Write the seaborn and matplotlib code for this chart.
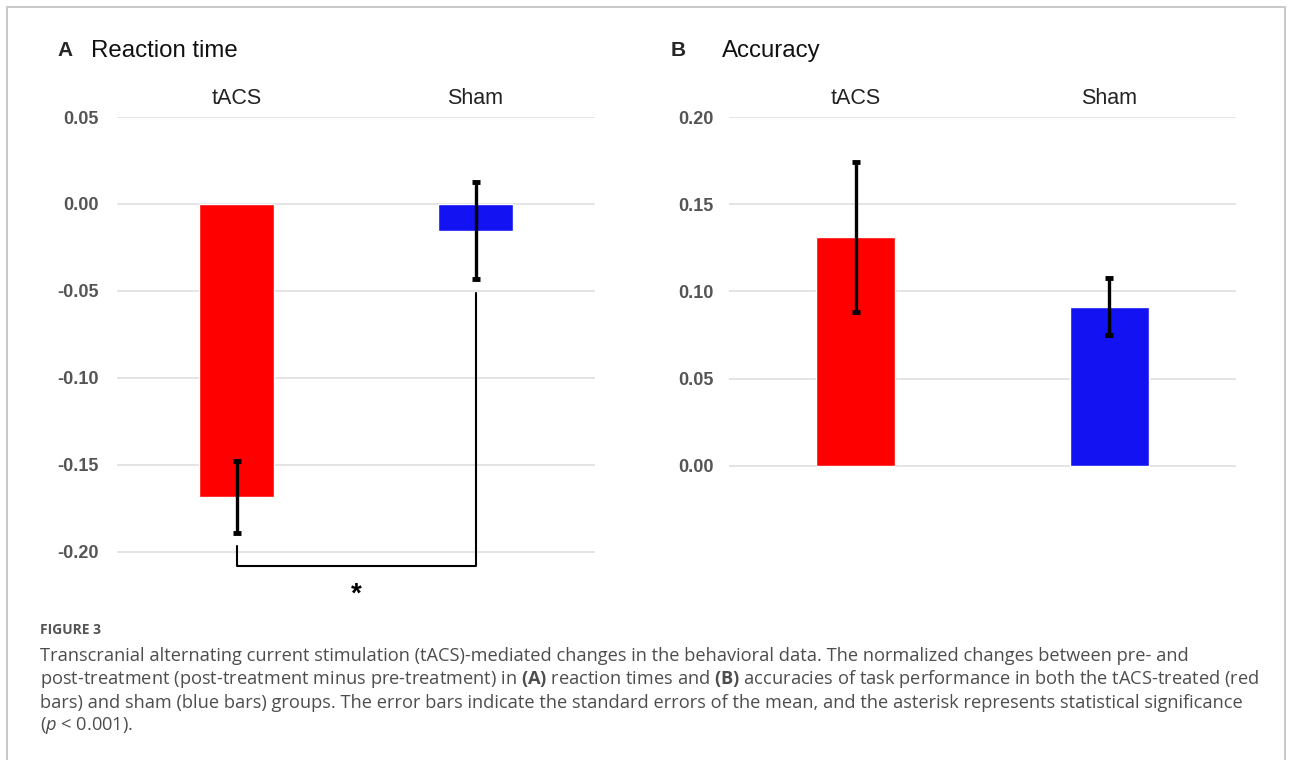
import matplotlib
matplotlib.use("Agg")
import matplotlib.pyplot as plt
import seaborn as sns
import pandas as pd
from matplotlib.patches import Rectangle

# ---------------- data ----------------
groups = ["tACS", "Sham"]
rt_mean = [-0.1685, -0.0153]
rt_sem = [0.0208, 0.0277]
acc_mean = [0.1313, 0.0912]
acc_sem = [0.0431, 0.0163]
bar_colors = ["#FF0000", "#1212F2"]

rt_ticks = [0.05, 0.00, -0.05, -0.10, -0.15, -0.20]
acc_ticks = [0.20, 0.15, 0.10, 0.05, 0.00]

# significance bracket (data units, panel A)
bracket_y = -0.2078
bracket_left_top = -0.1966
bracket_right_top = -0.0512
star_y = -0.2245

caption_lines = [
    "Transcranial alternating current stimulation (tACS)-mediated changes in the behavioral data. The normalized changes between pre- and",
    r"post-treatment (post-treatment minus pre-treatment) in $\mathbf{(A)}$ reaction times and $\mathbf{(B)}$ accuracies of task performance in both the tACS-treated (red",
    "bars) and sham (blue bars) groups. The error bars indicate the standard errors of the mean, and the asterisk represents statistical significance",
    r"($\mathit{p}$ < 0.001).",
]

# ---------------- style ----------------
sns.set_theme(style="white")
plt.rcParams["font.family"] = ["Liberation Sans", "DejaVu Sans"]
plt.rcParams["axes.unicode_minus"] = False
plt.rcParams["mathtext.fontset"] = "custom"
plt.rcParams["mathtext.rm"] = "Open Sans"
plt.rcParams["mathtext.it"] = "Open Sans:italic"
plt.rcParams["mathtext.bf"] = "Open Sans:bold"

W, H = 1293, 760
fig = plt.figure(figsize=(W / 100, H / 100), dpi=100)
fig.patch.set_facecolor("white")


def px_axes(x0, y0, x1, y1):
    return fig.add_axes([x0 / W, 1 - y1 / H, (x1 - x0) / W, (y1 - y0) / H])


def style_axes(ax, ticks, ylim, pad):
    ax.set_ylim(*ylim)
    ax.set_xlim(-0.5, 1.5)
    ax.set_yticks(ticks)
    ax.set_yticklabels([f"{t:.2f}" for t in ticks], fontweight="bold",
                       color="#555555", fontsize=13)
    ax.tick_params(axis="y", length=0, pad=pad)
    ax.xaxis.tick_top()
    ax.set_xticks(range(len(groups)))
    ax.set_xticklabels(groups, fontsize=15.5, color="#222222")
    ax.tick_params(axis="x", length=0, pad=6)
    ax.set_xlabel("")
    ax.set_ylabel("")
    for s in ax.spines.values():
        s.set_visible(False)
    ax.yaxis.grid(True, color="#e2e2e2", linewidth=1.3)
    ax.set_axisbelow(True)


df_rt = pd.DataFrame({"group": groups, "value": rt_mean})
df_acc = pd.DataFrame({"group": groups, "value": acc_mean})

# ---- Panel A ----
axA = px_axes(117, 117, 595, 600)
sns.barplot(data=df_rt, x="group", y="value", hue="group", palette=bar_colors,
            width=0.31, legend=False, ax=axA, saturation=1)
axA.errorbar(range(len(groups)), rt_mean, yerr=rt_sem, fmt="none", ecolor="black",
             elinewidth=2.4, capsize=3, capthick=3.5, zorder=5)
style_axes(axA, rt_ticks, (-0.2276, 0.05), 13)
axA.plot([0, 0, 1, 1], [bracket_left_top, bracket_y, bracket_y, bracket_right_top],
         color="black", linewidth=1.5, clip_on=False, zorder=6)
axA.text(0.5, star_y, "*", ha="center", va="center", fontsize=20,
         fontweight="bold", color="black", clip_on=False)

# ---- Panel B ----
axB = px_axes(729, 117, 1236, 470)
sns.barplot(data=df_acc, x="group", y="value", hue="group", palette=bar_colors,
            width=0.31, legend=False, ax=axB, saturation=1)
axB.errorbar(range(len(groups)), acc_mean, yerr=acc_sem, fmt="none", ecolor="black",
             elinewidth=2.4, capsize=3, capthick=3.5, zorder=5)
style_axes(axB, acc_ticks, (-0.0023, 0.20), 11)

# ---- panel titles ----
def ftxt(x, y, s, **kw):
    fig.text(x / W, 1 - y / H, s, **kw)

ftxt(57, 51, "A", fontsize=15, fontweight="bold", va="center", ha="left")
ftxt(91, 51, "Reaction time", fontsize=17.3, va="center", ha="left", color="#111111")
ftxt(671, 51, "B", fontsize=15, fontweight="bold", va="center", ha="left")
ftxt(722, 51, "Accuracy", fontsize=17.3, va="center", ha="left", color="#111111")

# ---- caption ----
ftxt(40, 630, "FIGURE 3", fontsize=10, va="center", ha="left", color="#555555",
     family=["Open Sans", "DejaVu Sans"], fontweight="bold")
cap_y = [656, 679, 703, 725]
for yy, line in zip(cap_y, caption_lines):
    ftxt(40, yy, line, fontsize=13.15, va="center", ha="left", color="#4d4d4d",
         family=["Open Sans", "DejaVu Sans"])

# ---- frame ----
fig.add_artist(Rectangle((7 / W, -0.05), (1285 - 7) / W, 1 - 7 / H + 0.05,
                         transform=fig.transFigure, fill=False,
                         edgecolor="#c4c4c4", linewidth=1.3))

fig.savefig("out.png", dpi=100)
